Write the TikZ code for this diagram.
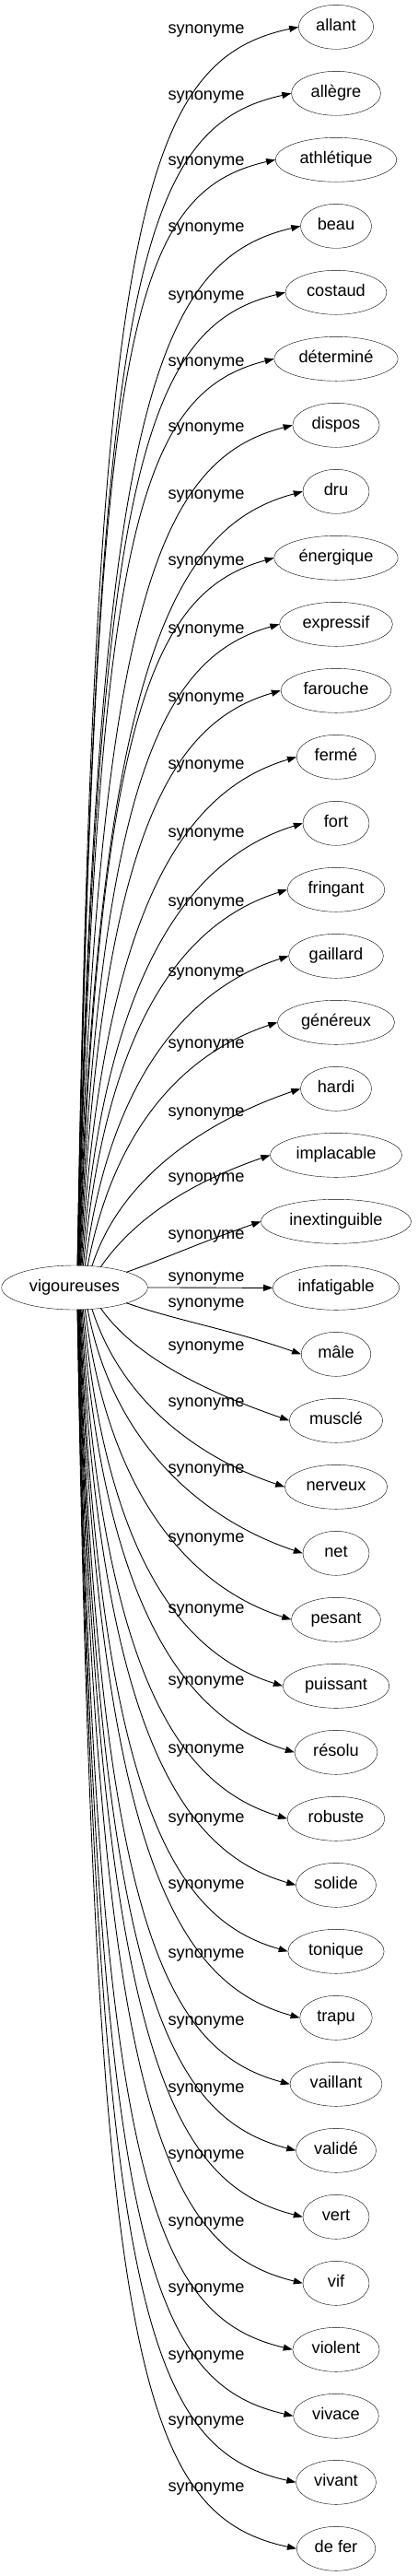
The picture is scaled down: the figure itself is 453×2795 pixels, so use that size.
\documentclass[tikz,border=0pt]{standalone}
\usepackage{fontspec}
\setmainfont{Liberation Sans}
\usetikzlibrary{shapes.geometric,arrows.meta}

\begin{document}
\begin{tikzpicture}[x=1pt,y=1pt,font=\fontsize{18.2pt}{22pt}\selectfont,
    word/.style={draw,ellipse,minimum width=72pt,minimum height=48pt,inner xsep=7pt,inner ysep=0pt,text height=13pt,text depth=4pt},
    syn/.style={-{Triangle[length=10pt,width=7pt]},line width=0.9pt},
    rel/.style={inner sep=0pt,text height=13pt,text depth=4pt}]
  \useasboundingbox (0,0) rectangle (453,-2795);
  \node[word] (vig) at (81,-1397) {vigoureuses};
  \foreach \w/\ly [count=\i from 0] in {allant/32, allègre/104, athlétique/175, beau/247,
      costaud/321, déterminé/393, dispos/464, dru/537, énergique/609, expressif/683,
      farouche/757, fermé/830, fort/904, fringant/979, gaillard/1055, généreux/1133,
      hardi/1207, implacable/1278, inextinguible/1340, infatigable/1386, mâle/1414,
      musclé/1461, nerveux/1522, net/1594, pesant/1669, puissant/1746, résolu/1824,
      robuste/1898, solide/1973, tonique/2045, trapu/2120, vaillant/2193, validé/2266,
      vert/2338, vif/2411, violent/2483, vivace/2556, vivant/2627, de fer/2699} {
    \pgfmathsetmacro{\ty}{29.3+72*\i}
    \pgfmathsetmacro{\dy}{1397.3-\ty}
    \pgfmathsetmacro{\ad}{abs(\dy)}
    \pgfmathsetmacro{\sg}{\dy/(\ad+1)}
    \pgfmathsetmacro{\sx}{min(79,4100/(\ad+1))}
    \pgfmathsetmacro{\sy}{\sg*24*sqrt(max(0,1-(\sx/79)*(\sx/79)))}
    \pgfmathsetmacro{\ax}{15+6000/(\ad+100)}
    \pgfmathsetmacro{\ay}{\sg*0.95*\ad*(\ad/(\ad+200))}
    \pgfmathsetmacro{\bx}{-(70+0.075*\ad)}
    \pgfmathsetmacro{\by}{\sg*\bx*tan(20-8*\ad/1368)}
    \node[word] (w\i) at (365,-\ty) {\w};
    \node[rel] (s\i) at (224,-\ly) {synonyme};
    \draw[syn] ([shift={(\sx pt,\sy pt)}]vig.center) .. controls +(\ax pt,\ay pt) and +(\bx pt,\by pt) .. (w\i.west);
  }
\end{tikzpicture}
\end{document}
